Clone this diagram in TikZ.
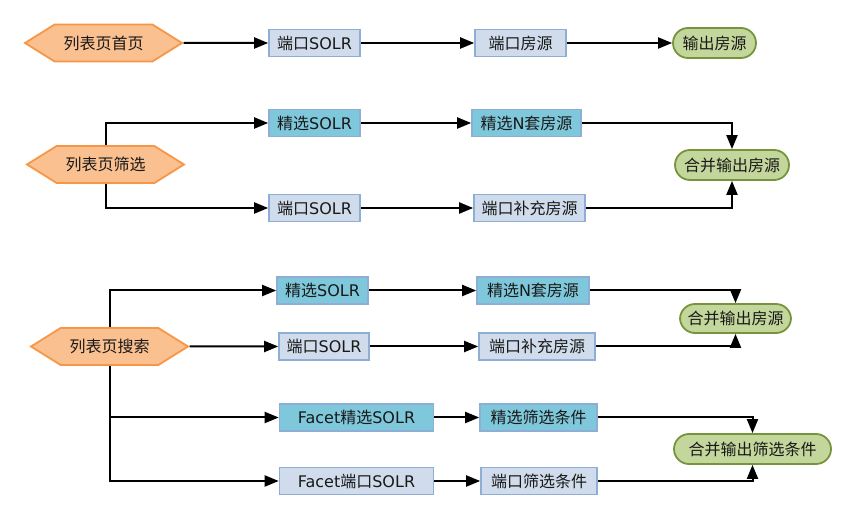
\documentclass[tikz,border=0pt]{standalone}
\usepackage{fontspec}
\setmainfont{DejaVu Sans}
\newfontfamily\cjk{Noto Sans CJK SC}
\usetikzlibrary{arrows.meta,shapes.symbols}

\definecolor{hexfill}{HTML}{FAC090}
\definecolor{hexline}{HTML}{F79646}
\definecolor{portfill}{HTML}{D0DCEC}
\definecolor{pickfill}{HTML}{7FC8DB}
\definecolor{boxline}{HTML}{8EAED6}
\definecolor{outfill}{HTML}{C3D69B}
\definecolor{outline}{HTML}{77933C}

\tikzset{
  hexnode/.style={signal, signal to=west and east, signal pointer angle=64,
    draw=hexline, fill=hexfill, line width=1.8pt,
    minimum width=157pt, minimum height=37pt, inner sep=0pt},
  portbox/.style={rectangle, draw=boxline, fill=portfill, line width=1.6pt,
    minimum height=27pt, inner sep=0pt},
  pickbox/.style={portbox, fill=pickfill},
  outnode/.style={rectangle, rounded corners=15pt, draw=outline, fill=outfill,
    line width=1.8pt, minimum height=30pt, inner sep=0pt},
  link/.style={-{Triangle[length=14pt,width=11pt]}, line width=2pt}
}

\begin{document}
\begin{tikzpicture}[x=1pt, y=-1pt, font=\fontsize{16}{19}\selectfont, text=black!90]
  \useasboundingbox (0,0) rectangle (852,518);

  \node[hexnode] (home) at (103.5,43) {{\cjk 列表页首页}};
  \node[portbox, minimum width=91pt] (homeport) at (314.5,43) {{\cjk 端口}SOLR};
  \node[portbox, minimum width=91pt] (homehouse) at (520.5,43) {\cjk 端口房源};
  \node[outnode, minimum width=83pt] (homeout) at (714.5,43) {\cjk 输出房源};
  \draw[link] (home) -- (homeport);
  \draw[link] (homeport) -- (homehouse);
  \draw[link] (homehouse) -- (homeout);

  \node[hexnode] (filter) at (105.5,164.5) {{\cjk 列表页筛选}};
  \node[pickbox, minimum width=91pt] (filterpick) at (314.5,123) {{\cjk 精选}SOLR};
  \node[portbox, minimum width=91pt] (filterport) at (314.5,208) {{\cjk 端口}SOLR};
  \node[pickbox, minimum width=109pt] (filtern) at (526.5,123) {{\cjk 精选}N{\cjk 套房源}};
  \node[portbox, minimum width=111pt] (filterfill) at (529.5,208) {\cjk 端口补充房源};
  \node[outnode, minimum width=114pt] (filterout) at (732,165) {\cjk 合并输出房源};
  \draw[link] (filter.north) |- (filterpick.west);
  \draw[link] (filter.south) |- (filterport.west);
  \draw[link] (filterpick) -- (filtern);
  \draw[link] (filterport) -- (filterfill);
  \draw[link] (filtern.east) -| (filterout.north);
  \draw[link] (filterfill.east) -| (filterout.south);

  \node[hexnode] (search) at (109.5,346.5) {{\cjk 列表页搜索}};
  \node[pickbox, minimum width=91pt] (searchpick) at (322.5,290.5) {{\cjk 精选}SOLR};
  \node[portbox, minimum width=90pt] (searchport) at (324,346.5) {{\cjk 端口}SOLR};
  \node[pickbox, minimum width=154pt] (facetpick) at (356.5,417.5) {Facet{\cjk 精选}SOLR};
  \node[portbox, minimum width=154pt] (facetport) at (356.5,481) {Facet{\cjk 端口}SOLR};
  \node[pickbox, minimum width=112pt] (searchn) at (533,290.5) {{\cjk 精选}N{\cjk 套房源}};
  \node[portbox, minimum width=116pt] (searchfill) at (537,346.5) {\cjk 端口补充房源};
  \node[outnode, minimum width=111pt, minimum height=29pt] (searchout) at (735.5,318.5) {\cjk 合并输出房源};
  \node[pickbox, minimum width=117pt] (facetcond) at (538.5,417.5) {\cjk 精选筛选条件};
  \node[portbox, minimum width=116pt] (facetfill) at (539,481) {\cjk 端口筛选条件};
  \node[outnode, minimum width=157pt] (facetout) at (752.5,449) {\cjk 合并输出筛选条件};
  \draw[link] (search.north) |- (searchpick.west);
  \draw[link] (search) -- (searchport);
  \draw[link] (search.south) |- (facetpick.west);
  \draw[link] (search.south) |- (facetport.west);
  \draw[link] (searchpick) -- (searchn);
  \draw[link] (searchport) -- (searchfill);
  \draw[link] (facetpick) -- (facetcond);
  \draw[link] (facetport) -- (facetfill);
  \draw[link] (searchn.east) -| (searchout.north);
  \draw[link] (searchfill.east) -| (searchout.south);
  \draw[link] (facetcond.east) -| (facetout.north);
  \draw[link] (facetfill.east) -| (facetout.south);
\end{tikzpicture}
\end{document}
